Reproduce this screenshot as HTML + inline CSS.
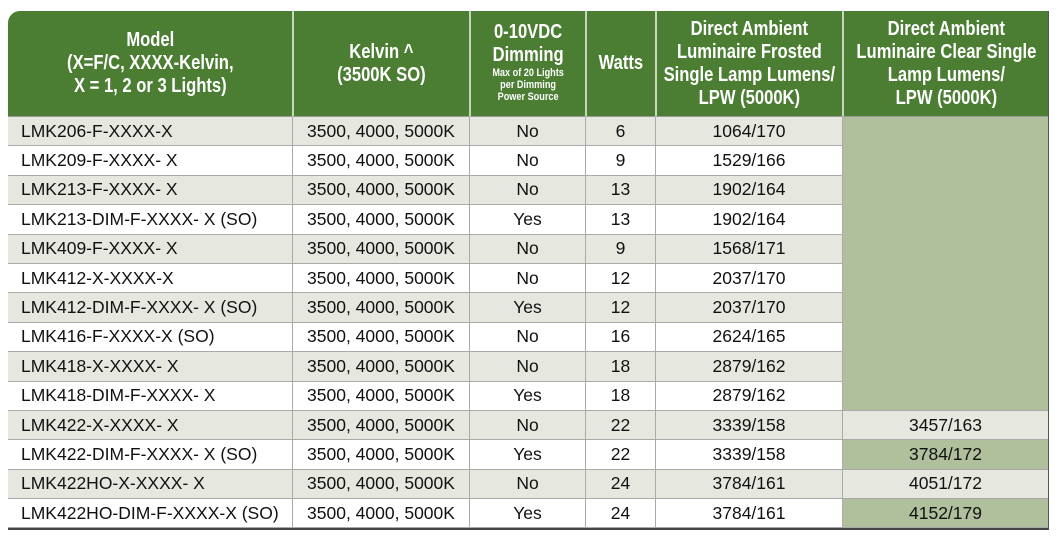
<!DOCTYPE html>
<html><head><meta charset="utf-8"><style>
body{margin:0;width:1060px;height:560px;background:#fff;font-family:"Liberation Sans",sans-serif;}
table{position:absolute;left:8px;top:11px;border-collapse:separate;border-spacing:0;width:1040px;table-layout:fixed;border-bottom:2px solid #444;border-right:1px solid #555;border-top-left-radius:12px;overflow:hidden}
th{background:#4b7d33;color:#fff;font-weight:bold;font-size:20px;line-height:23px;height:105px;padding:0;border-left:2px solid #c9d6bd;border-bottom:1px solid #999;white-space:nowrap;text-align:center}
th:first-child{border-left:none}
th div{display:inline-block;transform:scaleX(0.83);transform-origin:center;margin:0 -40px}
th small{display:block;font-size:11px;line-height:12px;font-weight:bold}
td{height:28.4px;padding:0;font-size:17.5px;color:#111;text-align:center;border-left:1px solid #aaa;border-bottom:1px solid #aaa;white-space:nowrap}
td:first-child{text-align:left;padding-left:13px;border-left:none}
tr.g td{background:#e6e7df}
td.gr{background:#b0bf9c !important}
</style></head><body>
<table>
<colgroup><col style="width:284px"><col style="width:177px"><col style="width:116px"><col style="width:70px"><col style="width:187px"><col style="width:206px"></colgroup>
<tr><th><div>Model<br>(X=F/C, XXXX-Kelvin,<br>X = 1, 2 or 3 Lights)</div></th><th><div>Kelvin ^<br>(3500K SO)</div></th><th><div>0-10VDC<br>Dimming<small>Max of 20 Lights<br>per Dimming<br>Power Source</small></div></th><th><div>Watts</div></th><th><div>Direct Ambient<br>Luminaire Frosted<br>Single Lamp Lumens/<br>LPW (5000K)</div></th><th><div>Direct Ambient<br>Luminaire Clear Single<br>Lamp Lumens/<br>LPW (5000K)</div></th></tr>
<tr class="g"><td>LMK206-F-XXXX-X</td><td>3500, 4000, 5000K</td><td>No</td><td>6</td><td>1064/170</td><td class="gr" rowspan="10"></td></tr>
<tr><td>LMK209-F-XXXX- X</td><td>3500, 4000, 5000K</td><td>No</td><td>9</td><td>1529/166</td></tr>
<tr class="g"><td>LMK213-F-XXXX- X</td><td>3500, 4000, 5000K</td><td>No</td><td>13</td><td>1902/164</td></tr>
<tr><td>LMK213-DIM-F-XXXX- X (SO)</td><td>3500, 4000, 5000K</td><td>Yes</td><td>13</td><td>1902/164</td></tr>
<tr class="g"><td>LMK409-F-XXXX- X</td><td>3500, 4000, 5000K</td><td>No</td><td>9</td><td>1568/171</td></tr>
<tr><td>LMK412-X-XXXX-X</td><td>3500, 4000, 5000K</td><td>No</td><td>12</td><td>2037/170</td></tr>
<tr class="g"><td>LMK412-DIM-F-XXXX- X (SO)</td><td>3500, 4000, 5000K</td><td>Yes</td><td>12</td><td>2037/170</td></tr>
<tr><td>LMK416-F-XXXX-X (SO)</td><td>3500, 4000, 5000K</td><td>No</td><td>16</td><td>2624/165</td></tr>
<tr class="g"><td>LMK418-X-XXXX- X</td><td>3500, 4000, 5000K</td><td>No</td><td>18</td><td>2879/162</td></tr>
<tr><td>LMK418-DIM-F-XXXX- X</td><td>3500, 4000, 5000K</td><td>Yes</td><td>18</td><td>2879/162</td></tr>
<tr class="g"><td>LMK422-X-XXXX- X</td><td>3500, 4000, 5000K</td><td>No</td><td>22</td><td>3339/158</td><td>3457/163</td></tr>
<tr><td>LMK422-DIM-F-XXXX- X (SO)</td><td>3500, 4000, 5000K</td><td>Yes</td><td>22</td><td>3339/158</td><td class="gr">3784/172</td></tr>
<tr class="g"><td>LMK422HO-X-XXXX- X</td><td>3500, 4000, 5000K</td><td>No</td><td>24</td><td>3784/161</td><td>4051/172</td></tr>
<tr><td>LMK422HO-DIM-F-XXXX-X (SO)</td><td>3500, 4000, 5000K</td><td>Yes</td><td>24</td><td>3784/161</td><td class="gr">4152/179</td></tr>
</table>
</body></html>
